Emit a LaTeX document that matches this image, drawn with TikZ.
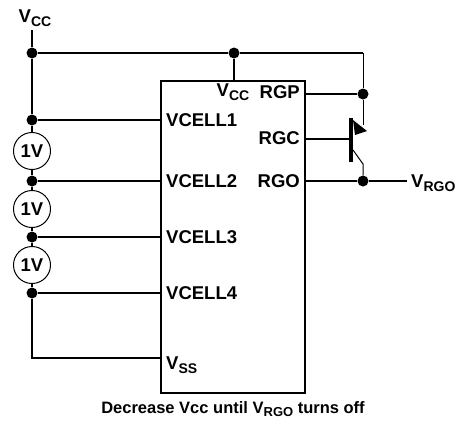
\documentclass[tikz,border=0pt]{standalone}
\usepackage{fontspec}
\setmainfont{Liberation Sans}
\newcommand{\lowsub}[2][14]{\raisebox{-0.35ex}{\fontsize{#1}{#1}\selectfont #2}}

\begin{document}
\begin{tikzpicture}[x=1pt,y=-1pt]
\tikzstyle{every node}+=[inner sep=0pt, font=\fontsize{18.5}{21}\selectfont\bfseries]
\tikzstyle{wire}=[line width=2pt]
\tikzstyle{thin wire}=[line width=1pt]
\tikzstyle{dot}=[circle, fill=black, minimum size=11pt]
\tikzstyle{cell}=[circle, draw, line width=1pt, minimum size=37pt]
\useasboundingbox (0,0) rectangle (466,429);
% chip
\node [draw, line width=2pt, anchor=north west, minimum width=144pt, minimum height=312pt] (chip) at (160,80) {};
% supply rail
\node (vcc) at (35,18) {V\lowsub{CC}};
\coordinate (vccin) at (32,30);
\node [dot] (top) at (32,53) {};
\node [dot] (vccj) at (234,53) {};
\coordinate (corner) at (363,53);
\draw [wire] (vccin) -- (top) -- (vccj) -- (corner);
\draw [wire] (vccj) -- (vccj |- chip.north);
% cells
\node [dot] (c1) at (32,120) {};
\node [cell] (src1) at (32,151) {1V};
\node [dot] (c2) at (32,181) {};
\node [cell] (src2) at (32,209) {1V};
\node [dot] (c3) at (32,237) {};
\node [cell] (src3) at (32,265) {1V};
\node [dot] (c4) at (32,293) {};
\coordinate (vssin) at (160,358);
\draw [wire] (top) -- (c1) -- (src1) -- (c2) -- (src2) -- (c3) -- (src3) -- (c4) |- (vssin);
\draw [wire] (c1) -- (c1 -| chip.west);
\draw [wire] (c2) -- (c2 -| chip.west);
\draw [wire] (c3) -- (c3 -| chip.west);
\draw [wire] (c4) -- (c4 -| chip.west);
% pin labels
\node [anchor=west] (cell1) at (166,120) {VCELL1};
\node [anchor=west] (cell2) at (166,181) {VCELL2};
\node [anchor=west] (cell3) at (166,237) {VCELL3};
\node [anchor=west] (cell4) at (166,293) {VCELL4};
\node [anchor=west] (vss) at (166,365) {V\lowsub{SS}};
\node (vccpin) at (233,92) {V\lowsub{CC}};
\node [anchor=east] (rgppin) at (300,92) {RGP};
\node [anchor=east] (rgcpin) at (300,138) {RGC};
\node [anchor=east] (rgopin) at (300,181) {RGO};
% transistor
\node [dot] (rgp) at (363,94) {};
\node [dot] (rgo) at (363,181) {};
\coordinate (bartop) at (351,118);
\coordinate (barbot) at (351,162);
\coordinate (base) at (351,139);
\coordinate (emit) at (363,125);
\coordinate (col) at (353,150);
\coordinate (colend) at (363,164);
\coordinate (out) at (407,181);
\draw [thin wire] (corner) -- (rgp);
\draw [wire] (chip.east |- rgp) -- (rgp);
\draw [line width=3.5pt] (bartop) -- (barbot);
\draw [wire] (chip.east |- base) -- (base);
\draw [thin wire] (rgp) -- (emit);
\fill (353,120) -- (367,131) -- (355,135) -- cycle;
\draw [thin wire] (col) -- (colend) -- (rgo);
\draw [wire] (chip.east |- rgo) -- (rgo) -- (out);
\node [anchor=west] (vrgo) at (411,183) {V\lowsub{RGO}};
% caption
\node (note) at (233,409) {\fontsize{16.5}{18}\selectfont Decrease Vcc until V\lowsub[13]{RGO} turns off};
\end{tikzpicture}
\end{document}
